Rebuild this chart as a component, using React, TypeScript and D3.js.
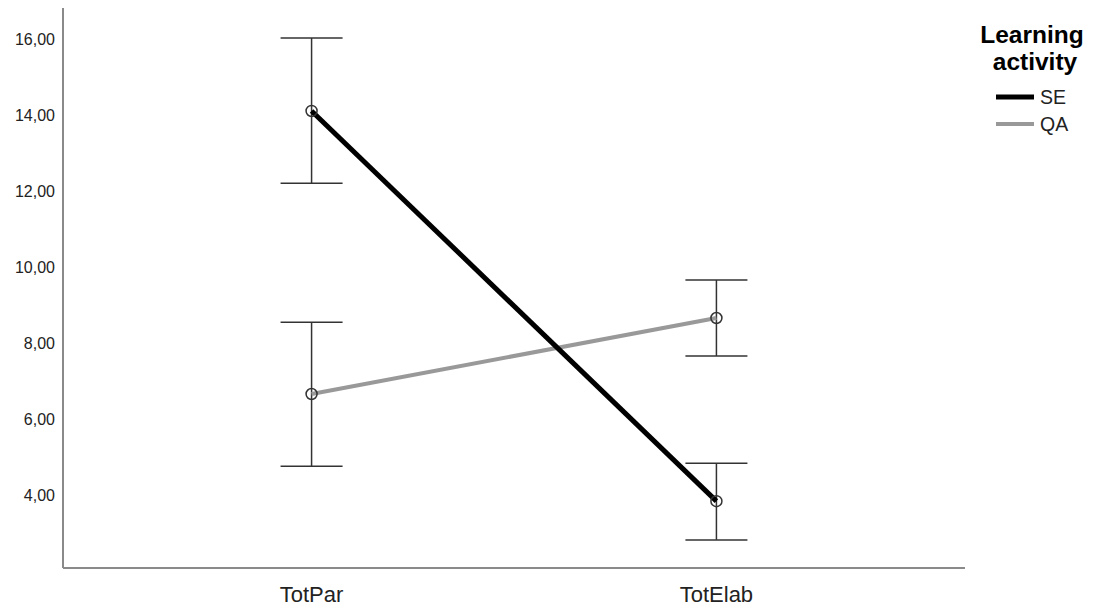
import React from 'react';
import * as d3 from 'd3';

// categories on the x axis
const categories = ['TotPar', 'TotElab'];

// series means and error bar limits
const seMeans = [14.11, 3.84];
const seUpper = [16.03, 4.84];
const seLower = [12.21, 2.82];

const qaMeans = [6.66, 8.66];
const qaUpper = [8.55, 9.66];
const qaLower = [4.76, 7.66];

const yTicks = [4, 6, 8, 10, 12, 14, 16];

const series = [
  { name: 'SE', means: seMeans, upper: seUpper, lower: seLower, color: '#000000', width: 5 },
  { name: 'QA', means: qaMeans, upper: qaUpper, lower: qaLower, color: '#999999', width: 4 },
];

export default function App() {
  const width = 1096;
  const height = 610;
  const left = 63, right = 965, top = 8, bottom = 568;

  const x = d3.scalePoint<string>().domain(categories).range([left, right]).padding(0.614);
  const y = d3.scaleLinear().domain([2.08, 16.82]).range([bottom, top]);

  const line = d3.line<[number, number]>().x(d => d[0]).y(d => d[1]);
  const fmt = (v: number) => v.toFixed(2).replace('.', ',');

  return (
    <svg width={width} height={height} style={{ position: 'absolute', left: 0, top: 0, background: '#fff' }}
      fontFamily="Arial, 'Liberation Sans', sans-serif">
      {/* axes */}
      <line x1={left} y1={top} x2={left} y2={bottom} stroke="#8a8a8a" strokeWidth={2} />
      <line x1={left} y1={bottom} x2={right} y2={bottom} stroke="#8a8a8a" strokeWidth={2} />

      {yTicks.map(t => (
        <text key={t} x={55} y={y(t)} dy="0.35em" textAnchor="end" fontSize={16} fill="#222">{fmt(t)}</text>
      ))}
      {categories.map(c => (
        <text key={c} x={x(c)} y={594} dy="0.35em" textAnchor="middle" fontSize={22} fill="#222">{c}</text>
      ))}

      {/* error bars */}
      {series.map(s => categories.map((c, i) => {
        const cx = x(c)!;
        return (
          <g key={s.name + c} stroke="#333" strokeWidth={1.5}>
            <line x1={cx} x2={cx} y1={y(s.upper[i])} y2={y(s.lower[i])} />
            <line x1={cx - 31} x2={cx + 31} y1={y(s.upper[i])} y2={y(s.upper[i])} />
            <line x1={cx - 31} x2={cx + 31} y1={y(s.lower[i])} y2={y(s.lower[i])} />
          </g>
        );
      }))}

      {/* lines (QA first so SE sits on top) */}
      {[...series].reverse().map(s => (
        <path key={s.name}
          d={line(categories.map((c, i) => [x(c)!, y(s.means[i])]))!}
          fill="none" stroke={s.color} strokeWidth={s.width} />
      ))}

      {/* markers */}
      {series.map(s => categories.map((c, i) => (
        <circle key={s.name + c} cx={x(c)} cy={y(s.means[i])} r={5.5}
          fill="none" stroke="#333" strokeWidth={1.5} />
      )))}

      {/* legend */}
      <text x={1032} y={34} dy="0.35em" textAnchor="middle" fontSize={24.5} fontWeight="bold" fill="#000">Learning</text>
      <text x={1035} y={61} dy="0.35em" textAnchor="middle" fontSize={24.5} fontWeight="bold" fill="#000">activity</text>
      {series.map((s, i) => (
        <g key={s.name}>
          <line x1={996} x2={1034} y1={97 + i * 27} y2={97 + i * 27} stroke={s.color} strokeWidth={s.width} />
          <text x={1040} y={97 + i * 27} dy="0.35em" fontSize={19.5} fill="#222">{s.name}</text>
        </g>
      ))}
    </svg>
  );
}
